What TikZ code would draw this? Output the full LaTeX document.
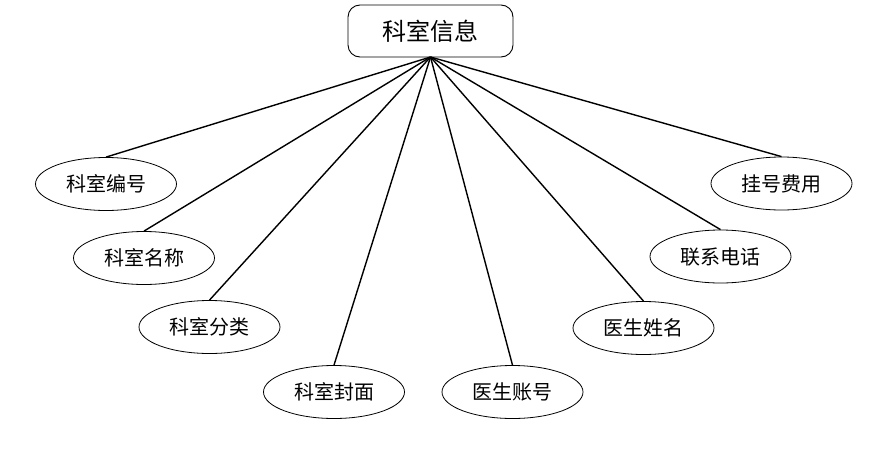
\documentclass[tikz,border=0pt]{standalone}
\usepackage{fontspec}
\newfontfamily\cjk{Noto Sans CJK SC}
\usetikzlibrary{shapes.geometric}
\begin{document}
\begin{tikzpicture}[x=1pt,y=-1pt,
  attr/.style={ellipse, draw, line width=0.8pt, minimum width=141pt, minimum height=53pt, inner sep=0pt, font=\cjk\fontsize{20}{22}\selectfont},
  entity/.style={rectangle, rounded corners=12pt, draw, line width=0.9pt, minimum width=165pt, minimum height=52pt, inner sep=0pt, font=\cjk\fontsize{24}{26}\selectfont},
  link/.style={line width=1.4pt}]
\useasboundingbox (0,0) rectangle (874,450);
\node[entity] (e) at (430.5,31) {科室信息};
\coordinate (hub) at (430.5,57);
\node[attr] (a1) at (106,184) {科室编号};
\node[attr] (a2) at (144,258) {科室名称};
\node[attr] (a3) at (209.5,327) {科室分类};
\node[attr] (a4) at (334,392) {科室封面};
\node[attr] (a5) at (512.5,392) {医生账号};
\node[attr] (a6) at (643.5,328) {医生姓名};
\node[attr] (a7) at (720.5,256.5) {联系电话};
\node[attr] (a8) at (781.5,183.5) {挂号费用};
\foreach \n in {a1,a2,a3,a4,a5,a6,a7,a8}
  \draw[link] (hub) -- (\n.north);
\end{tikzpicture}
\end{document}
